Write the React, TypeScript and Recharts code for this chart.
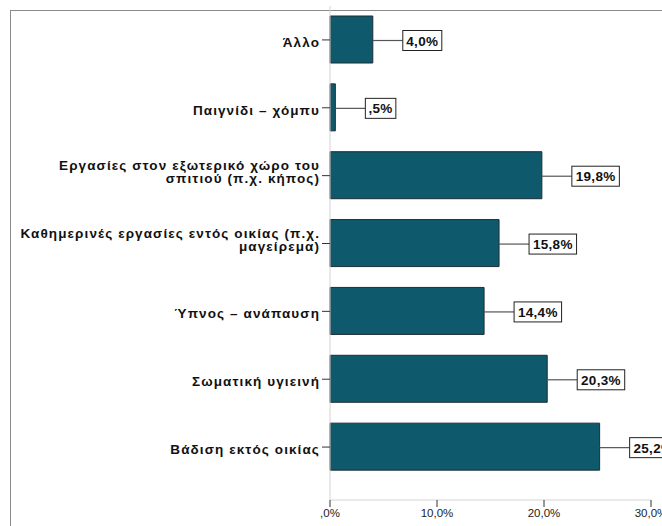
import { BarChart, Bar, XAxis, YAxis, LabelList } from 'recharts';

// activity categories (line breaks as printed on the axis)
const categories = [
  'Άλλο',
  'Παιγνίδι – χόμπυ',
  'Εργασίες στον εξωτερικό χώρο του\nσπιτιού (π.χ. κήπος)',
  'Καθημερινές εργασίες εντός οικίας (π.χ.\nμαγείρεμα)',
  'Ύπνος – ανάπαυση',
  'Σωματική υγιεινή',
  'Βάδιση εκτός οικίας',
];

// percentages per category
const percents = [4.0, 0.5, 19.8, 15.8, 14.4, 20.3, 25.2];

const xTicks = [0, 10, 20, 30];

const data = categories.map((name, i) => ({ name, pct: percents[i] }));

const FONT = '"Liberation Sans", Arial, sans-serif';

// SPSS-style number: comma decimal, no leading zero
function fmt(v: number) {
  const s = v.toFixed(1).replace('.', ',');
  return s.startsWith('0,') ? s.slice(1) : s;
}

function CategoryTick(props: any) {
  const { x, y, payload } = props;
  const lines = String(payload.value).split('\n');
  const n = lines.length;
  return (
    <g>
      {lines.map((line, i) => (
        <text
          key={i}
          x={x}
          y={y + 7 - (n - 1 - i) * 12.5}
          textAnchor="end"
          fontFamily={FONT}
          fontSize={13.5}
          fontWeight="bold"
          letterSpacing={1.1}
          fill="#111"
        >
          {line}
        </text>
      ))}
    </g>
  );
}

function ValueLabel(props: any) {
  const { x, y, width, height, value } = props;
  const text = fmt(value) + '%';
  const endX = x + width;
  const cy = y + height / 2 + 1;
  const gap = 30;
  const boxW = text.length * 8.5 + 5;
  const boxH = 20;
  return (
    <g>
      <line x1={endX} y1={cy} x2={endX + gap} y2={cy} stroke="#555" strokeWidth={1.2} />
      <rect
        x={endX + gap}
        y={cy - boxH / 2}
        width={boxW}
        height={boxH}
        fill="#fff"
        stroke="#222"
        strokeWidth={1}
      />
      <text
        x={endX + gap + boxW / 2}
        y={cy + 5}
        textAnchor="middle"
        fontFamily={FONT}
        fontSize={13.5}
        fontWeight="bold"
        letterSpacing={0.3}
        fill="#111"
      >
        {text}
      </text>
    </g>
  );
}

export default function App() {
  return (
    <div
      style={{
        position: 'fixed',
        left: 0,
        top: 0,
        width: 662,
        height: 526,
        overflow: 'hidden',
        background: '#fff',
      }}
    >
      <div
        style={{
          position: 'absolute',
          left: 10,
          top: 10,
          width: 800,
          height: 600,
          border: '1px solid #8a8a8a',
        }}
      />
      <div style={{ position: 'absolute', left: 0, top: 0 }}>
        <BarChart
          width={720}
          height={526}
          data={data}
          layout="vertical"
          margin={{ top: 6, right: 69, bottom: 0, left: 0 }}
        >
          <XAxis
            type="number"
            domain={[0, 30]}
            ticks={xTicks}
            tickFormatter={(v: number) => fmt(v) + '%'}
            height={26}
            axisLine={{ stroke: '#d4d4d4' }}
            tickLine={{ stroke: '#333' }}
            tickSize={7}
            tick={{ fontSize: 11.5, fill: '#222', fontFamily: FONT }}
          />
          <YAxis
            type="category"
            dataKey="name"
            width={330}
            padding={{ top: 0, bottom: 19 }}
            axisLine={{ stroke: '#d4d4d4' }}
            tickLine={{ stroke: '#333' }}
            tickSize={8}
            tickMargin={2}
            tick={<CategoryTick />}
            interval={0}
          />
          <Bar
            dataKey="pct"
            barSize={47}
            fill="#0F596D"
            stroke="#1E2D33"
            strokeWidth={1}
            isAnimationActive={false}
          >
            <LabelList dataKey="pct" content={<ValueLabel />} />
          </Bar>
        </BarChart>
      </div>
    </div>
  );
}
